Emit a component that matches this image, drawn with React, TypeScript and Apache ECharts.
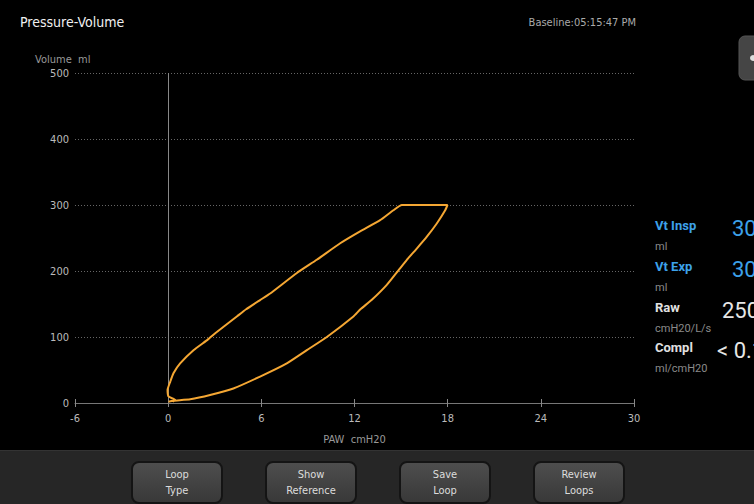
import React, { useEffect, useRef } from "react";
import * as echarts from "echarts";

// ---- data ----
const xTicks = [-6, 0, 6, 12, 18, 24, 30];
const yTicks = [0, 100, 200, 300, 400, 500];
// inspiratory limb (pressure cmH2O, volume ml)
const inspPressure = [0.3, 0.45, 0.02, -0.04, 0.13, 0.34, 0.77, 1.63, 2.55, 3.05, 4.42, 5.02, 5.92, 6.57, 8.29, 9.57, 11.08, 12.36, 13.65, 14.5, 15.05, 17.99];
const inspVolume = [2, 4.5, 10, 20, 32, 45, 60, 80, 96, 106, 131, 142, 156, 166, 197, 217, 242, 260, 277, 292, 300, 300];
// expiratory limb
const expPressure = [17.84, 17.3, 16.66, 16.01, 15.37, 14.83, 14.08, 13.1, 12.38, 11.93, 10.22, 8.93, 7.64, 5.92, 4.2, 2.7, 1.42, 0.34, 0.02];
const expVolume = [292, 272, 252, 234, 217, 201, 179, 156, 142, 131, 100, 80, 60, 40, 22, 12, 5.6, 3.5, 2];

const panelLabels = ["Vt Insp", "Vt Exp", "Raw", "Compl"];
const panelUnits = ["ml", "ml", "cmH20/L/s", "ml/cmH20"];
const panelValues = ["30", "30", "250", "< 0.1"];
const buttonLabels = ["Loop\nType", "Show\nReference", "Save\nLoop", "Review\nLoops"];

const FONT = "'Liberation Sans Narrow', 'DejaVu Sans Condensed', 'Roboto', sans-serif";
const FONT2 = "'Roboto', 'Noto Sans', sans-serif";

export default function App() {
  const ref = useRef<HTMLDivElement>(null);
  useEffect(() => {
    if (!ref.current) return;
    const chart = echarts.init(ref.current, undefined, { renderer: "svg" });
    const loop: number[][] = [];
    inspPressure.forEach((p, i) => loop.push([p, inspVolume[i]]));
    expPressure.forEach((p, i) => loop.push([p, expVolume[i]]));

    const graphics: any[] = [];
    // toolbar
    graphics.push({ type: "rect", shape: { x: 0, y: 450, width: 754, height: 54 }, style: { fill: "#262626" }, z: 0 });
    graphics.push({ type: "rect", shape: { x: 0, y: 450, width: 754, height: 1 }, style: { fill: "#333" }, z: 0 });
    buttonLabels.forEach((lab, i) => {
      const x = 132 + i * 134;
      graphics.push({
        type: "rect",
        shape: { x, y: 462, width: 90, height: 41, r: 7 },
        style: {
          fill: new echarts.graphic.LinearGradient(0, 0, 0, 1, [
            { offset: 0, color: "#4e4e4e" },
            { offset: 1, color: "#383838" },
          ]),
          stroke: "#141414",
          lineWidth: 2,
        },
        z: 1,
      });
      graphics.push({
        type: "text",
        x: x + 45,
        y: 482,
        style: { text: lab, fill: "#dcdcdc", font: `11px ${FONT}`, align: "center", verticalAlign: "middle", lineHeight: 16 },
        z: 2,
      });
    });
    // top-right tab
    graphics.push({ type: "rect", shape: { x: 739, y: 36, width: 30, height: 44, r: 6 }, style: { fill: "#454545", stroke: "#555", lineWidth: 1 }, z: 1 });
    graphics.push({ type: "circle", shape: { cx: 753, cy: 58, r: 3 }, style: { fill: "#ddd" }, z: 2 });
    // titles
    graphics.push({ type: "text", x: 20, y: 22, style: { text: "Pressure-Volume", fill: "#f0f0f0", font: `14px ${FONT}`, verticalAlign: "middle" } });
    graphics.push({ type: "text", x: 636, y: 22, style: { text: "Baseline:05:15:47 PM", fill: "#aaa", font: `11px ${FONT}`, align: "right", verticalAlign: "middle" } });
    graphics.push({ type: "text", x: 35, y: 59, style: { text: "Volume  ml", fill: "#999", font: `11px ${FONT}`, verticalAlign: "middle" } });
    // right panel
    const rowY = [225, 266, 307, 347];
    panelLabels.forEach((lab, i) => {
      const blue = i < 2;
      graphics.push({ type: "text", x: 655, y: rowY[i], style: { text: lab, fill: blue ? "#3da2ea" : "#e0e0e0", font: `bold 13px ${FONT2}`, verticalAlign: "middle" } });
      graphics.push({ type: "text", x: 655, y: rowY[i] + 21, style: { text: panelUnits[i], fill: "#8a8a8a", font: `11px ${FONT2}`, verticalAlign: "middle" } });
      const v = panelValues[i];
      const vx = i < 2 ? 732 : i === 2 ? 722 : 717;
      graphics.push({ type: "text", x: vx, y: rowY[i] + 3, style: { text: v, fill: blue ? "#3da2ea" : "#e6e6e6", font: `22px ${FONT2}`, verticalAlign: "middle" } });
    });

    chart.setOption({
      animation: false,
      backgroundColor: "#000",
      grid: { left: 75, right: 120, top: 73, bottom: 101, containLabel: false },
      xAxis: [
        {
          type: "value",
          min: -6,
          max: 30,
          interval: 6,
          name: "PAW  cmH20",
          nameLocation: "middle",
          nameGap: 31,
          nameTextStyle: { color: "#999", fontSize: 11, fontFamily: FONT },
          axisLine: { show: true, onZero: false, lineStyle: { color: "#777", width: 1 } },
          axisTick: { show: true, length: 4, lineStyle: { color: "#888" } },
          axisLabel: { color: "#bbb", fontSize: 11, fontFamily: FONT, margin: 10, formatter: (v: number) => (xTicks.includes(v) ? String(v) : "") },
          splitLine: { show: false },
        },
        {
          type: "value",
          min: -6,
          max: 30,
          interval: 6,
          position: "bottom",
          axisLine: { show: false },
          axisTick: { show: true, inside: true, length: 4, lineStyle: { color: "#888" } },
          axisLabel: { show: false },
          splitLine: { show: false },
        },
      ],
      yAxis: {
        type: "value",
        min: 0,
        max: 500,
        interval: 100,
        axisLine: { show: false },
        axisTick: { show: false },
        axisLabel: { color: "#bbb", fontSize: 11, fontFamily: FONT, margin: 6, formatter: (v: number) => (yTicks.includes(v) ? String(v) : "") },
        splitLine: { show: true, lineStyle: { color: "#666", type: [1, 2], width: 1 } },
      },
      series: [
        {
          type: "line",
          data: loop,
          showSymbol: false,
          symbol: "none",
          smooth: 0.15,
          lineStyle: { color: "#f5a733", width: 2 },
          z: 5,
          markLine: {
            silent: true,
            symbol: "none",
            label: { show: false },
            lineStyle: { color: "#888", type: "solid", width: 1 },
            data: [{ xAxis: 0 }],
            z: 3,
          },
        },
      ],
      graphic: graphics,
    });
    return () => chart.dispose();
  }, []);
  return <div ref={ref} style={{ position: "fixed", left: 0, top: 0, width: 754, height: 504 }} />;
}
